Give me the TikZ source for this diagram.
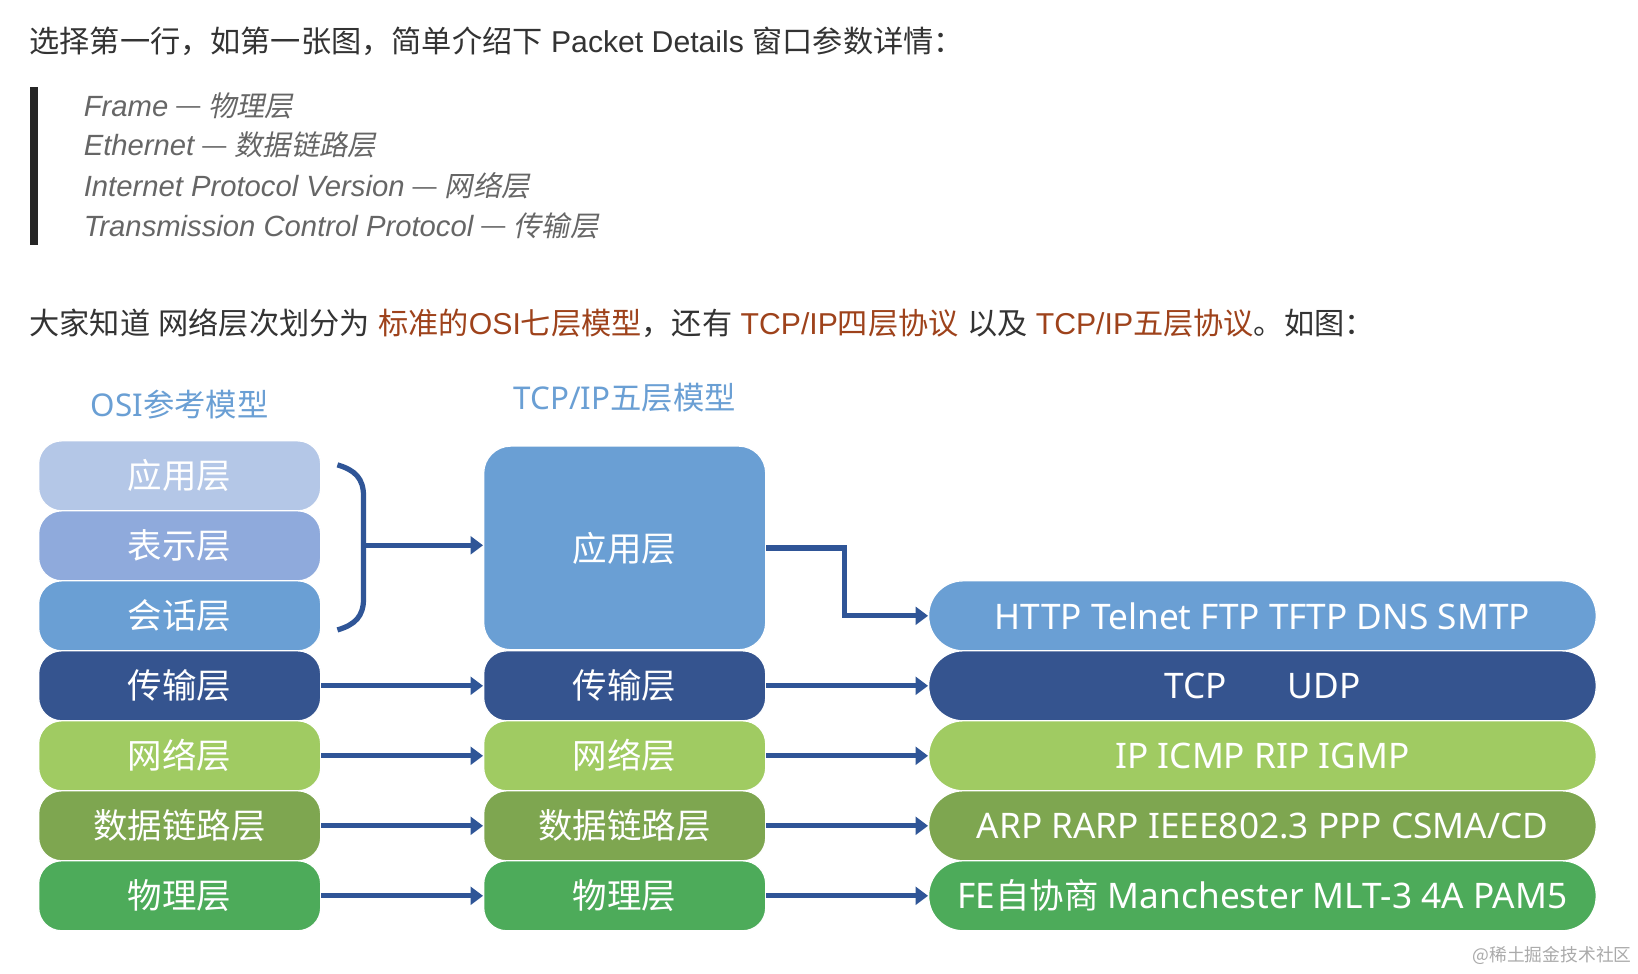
\documentclass[tikz,border=0pt]{standalone}
\usepackage{fontspec}
\setmainfont{Noto Sans CJK SC}
\newfontfamily\qfont{Noto Sans CJK SC}[FakeSlant=0.2]
\newfontfamily\ar{Liberation Sans}
\newfontfamily\ns{Noto Sans}
\newfontfamily\cjk{Noto Sans CJK SC}
\newcommand{\qlat}[1]{{\ar\itshape\fontsize{28}{28}\selectfont #1}}
\newcommand{\qdash}{{\ar\itshape\fontsize{28}{28}\selectfont\ }\raisebox{2.5pt}{\ar\fontsize{23}{23}\selectfont —}{\ar\fontsize{28}{28}\selectfont\ }}
\newcommand{\boxlat}[1]{{\ns\fontsize{33.7}{34}\selectfont #1}}
\usetikzlibrary{arrows.meta}
\definecolor{bodyc}{HTML}{333333}
\definecolor{quotec}{HTML}{666666}
\definecolor{hlc}{HTML}{9E421B}
\definecolor{titlec}{HTML}{6A9FD4}
\definecolor{cApp}{HTML}{B4C7E7}
\definecolor{cPre}{HTML}{8FAADC}
\definecolor{cSes}{HTML}{6A9FD4}
\definecolor{cTra}{HTML}{35548F}
\definecolor{cNet}{HTML}{A0CB62}
\definecolor{cDat}{HTML}{7EA650}
\definecolor{cPhy}{HTML}{4DAB5A}
\definecolor{arrowc}{HTML}{2F5597}
\definecolor{wmc}{HTML}{AAAAAA}
\begin{document}
\begin{tikzpicture}[x=1pt,y=-1pt,
  txt/.style={anchor=west,inner sep=0pt,text=bodyc,font=\fontsize{28.9}{29}\selectfont},
  qtxt/.style={anchor=west,inner sep=0pt,text=quotec,font=\fontsize{27}{27}\selectfont},
  ttl/.style={inner sep=0pt,text=titlec,font=\fontsize{30}{30}\selectfont},
  layer/.style={draw=white,line width=1.2pt,rounded corners=22pt,text=white,
    font=\fontsize{33}{33}\selectfont,minimum height=67pt,inner sep=0pt},
  osi/.style={layer,minimum width=270pt},
  prot/.style={layer,minimum width=639pt,rounded corners=33pt},
  arr/.style={draw=arrowc,line width=5pt,-{Triangle[length=12pt,width=17pt]}},
  brk/.style={draw=arrowc,line width=5pt}]
\useasboundingbox[fill=white] (0,0) rectangle (1568,932);

% text
\node[txt] (l1) at (28,40) {选择第一行，如第一张图，简单介绍下{\ar\ Packet Details\ }窗口参数详情：};
\fill[black!85] (29,83) rectangle (36,235);
\node[qtxt] (q1) at (80,101) {\qlat{Frame}\qdash{\qfont 物理层}};
\node[qtxt] (q2) at (80,139) {\qlat{Ethernet}\qdash{\qfont 数据链路层}};
\node[qtxt] (q3) at (80,178) {\qlat{Internet Protocol Version}\qdash{\qfont 网络层}};
\node[qtxt] (q4) at (80,216) {\qlat{Transmission Control Protocol}\qdash{\qfont 传输层}};
\node[txt] (l2) at (28,309) {大家知道{\ar\ }网络层次划分为{\ar\ }\textcolor{hlc}{标准的{\ar OSI}七层模型}，还有{\ar\ }\textcolor{hlc}{{\ar TCP/IP}四层协议}{\ar\ }以及{\ar\ }\textcolor{hlc}{{\ar TCP/IP}五层协议}。如图：};

% titles
\node[ttl] (t1) at (172,387) {{\ns OSI}参考模型};
\node[ttl] (t2) at (598,381) {{\ns TCP/IP}五层模型};

% OSI column
\node[osi,fill=cApp] (o1) at (172,455.5) {应用层};
\node[osi,fill=cPre] (o2) at (172,522.5) {表示层};
\node[osi,fill=cSes] (o3) at (172,589.5) {会话层};
\node[osi,fill=cTra] (o4) at (172,656.5) {传输层};
\node[osi,fill=cNet] (o5) at (172,723.5) {网络层};
\node[osi,fill=cDat] (o6) at (172,790.5) {数据链路层};
\node[osi,fill=cPhy] (o7) at (172,857.5) {物理层};

% TCP/IP five layer column
\node[layer,fill=cSes,minimum width=270pt,minimum height=195pt,rounded corners=26pt] (m1) at (598,524.5) {应用层};
\node[osi,fill=cTra] (m2) at (598,656.5) {传输层};
\node[osi,fill=cNet] (m3) at (598,723.5) {网络层};
\node[osi,fill=cDat] (m4) at (598,790.5) {数据链路层};
\node[osi,fill=cPhy] (m5) at (598,857.5) {物理层};

% protocols column
\node[prot,fill=cSes] (r1) at (1208.5,589.5) {\boxlat{HTTP Telnet FTP TFTP DNS SMTP}};
\node[prot,fill=cTra] (r2) at (1208.5,656.5) {\boxlat{TCP\hspace{58pt}UDP}};
\node[prot,fill=cNet] (r3) at (1208.5,723.5) {\boxlat{IP ICMP RIP IGMP}};
\node[prot,fill=cDat] (r4) at (1208.5,790.5) {\boxlat{ARP RARP IEEE802.3 PPP CSMA/CD}};
\node[prot,fill=cPhy] (r5) at (1208.5,857.5) {\boxlat{FE}自协商\boxlat{\ Manchester MLT-3 4A PAM5}};

% bracket
\coordinate (bt) at (323,445);
\coordinate (bb) at (323,603);
\coordinate (bm) at (348,522);
\draw[brk] (bt) .. controls (340,450) and (348,458) .. (348,475) -- (348,573) .. controls (348,590) and (340,598) .. (bb);
\draw[arr] (bm) -- (bm -| m1.west);

% elbow arrow
\draw[arr] (m1.east) -- ++(75,0) |- (r1.west);

% row arrows
\draw[arr] (o4.east) -- (m2.west);
\draw[arr] (o5.east) -- (m3.west);
\draw[arr] (o6.east) -- (m4.west);
\draw[arr] (o7.east) -- (m5.west);
\draw[arr] (m2.east) -- (r2.west);
\draw[arr] (m3.east) -- (r3.west);
\draw[arr] (m4.east) -- (r4.west);
\draw[arr] (m5.east) -- (r5.west);

% watermark
\node[anchor=east,inner sep=0pt,text=wmc,font=\fontsize{17}{17}\selectfont] (wm) at (1562,915) {@稀土掘金技术社区};
\end{tikzpicture}
\end{document}
